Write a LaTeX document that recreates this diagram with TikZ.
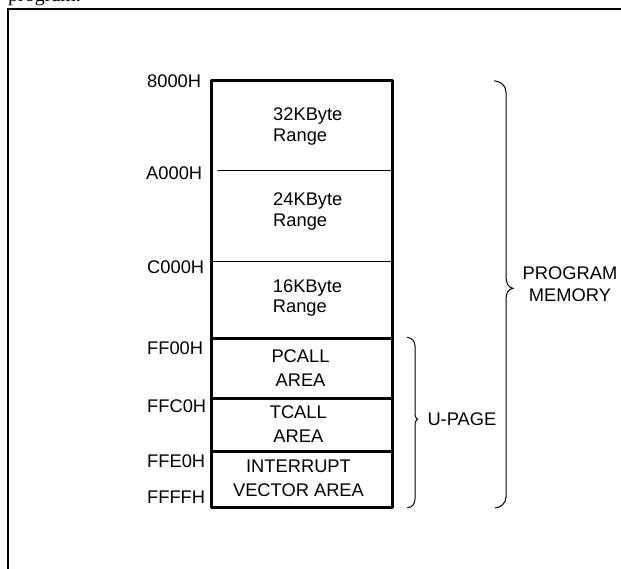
\documentclass[tikz,border=0pt]{standalone}
\usepackage{fontspec}
\setmainfont{Liberation Sans}
\newfontfamily\capfont{Liberation Serif}
\usepackage{tikz, tkz-euclide}
\usetikzlibrary{calc}

\tikzset{
  addr/.style={anchor=west, inner sep=0pt, font=\fontsize{18.3}{22}\selectfont},
  rangetxt/.style={anchor=west, align=left, inner sep=0pt, text depth=0pt,
    font=\fontsize{18.3}{20.5}\selectfont},
  areatxt/.style={align=center, inner sep=0pt, text depth=0pt,
    font=\fontsize{18.3}{24}\selectfont},
  bracel/.style={line width=1pt},
}

\begin{document}
\begin{tikzpicture}[x=1pt, y=-1pt]
      \useasboundingbox (0,0) rectangle (621,568);
      \clip (0,0) rectangle (621,568);%
      \node[anchor=base west, inner sep=0pt, font=\capfont\fontsize{20}{24}\selectfont]
        (cap) at (8,1.5) {program.};%
      \draw[line width=2pt] (8,9.3) rectangle (700,700);%

      \tkzDefPoints{211.7/80.7/T1, 392.3/80.7/T2, 392.3/507.7/B2, 211.7/507.7/B1}%
      \tkzDefPoints{218/170.7/a1, 392.3/170.7/a2, 210/261.7/c1, 392.3/261.7/c2}%
      \tkzDefPoints{211.7/338/f1, 392.3/338/f2, 211.7/398/g1, 392.3/398/g2}%
      \tkzDefPoints{211.7/451.7/h1, 392.3/451.7/h2}%

      \tkzDrawPolygon[line width=3pt](T1,T2,B2,B1)%
      \tkzDrawSegments[line width=1.5pt](a1,a2 c1,c2)%
      \tkzDrawSegments[line width=3pt](f1,f2 g1,g2 h1,h2)%

      % addresses
      \node[addr] (a8000) at (147,81.5) {8000H};%
      \node[addr] (aA000) at (146,173) {A000H};%
      \node[addr] (aC000) at (147,266.7) {C000H};%
      \node[addr] (aFF00) at (147,347.7) {FF00H};%
      \node[addr] (aFFC0) at (147,406) {FFC0H};%
      \node[addr] (aFFE0) at (147,460.7) {FFE0H};%
      \node[addr] (aFFFF) at (147,496.7) {FFFFH};%

      \node[rangetxt] (r32) at (273,124.7) {32KByte\\Range};%
      \node[rangetxt] (r24) at (273,209.7) {24KByte\\Range};%
      \node[rangetxt] (r16) at (272.7,296.3) {16KByte\\Range};%
      \node[areatxt] (pcall) at (300.5,368) {PCALL\\AREA};%
      \node[areatxt] (tcall) at (298.3,424) {TCALL\\AREA};%
      \node[areatxt] (intv) at (298.5,478.4) {INTERRUPT\\VECTOR AREA};%

      % braces
      \draw[bracel] (407.3,337.3) .. controls (412,338) and (415,341) .. (415,346)
        -- (415,413) .. controls (415,416.5) and (416,418.5) .. (417.5,419.3)
        .. controls (416,420) and (415,422) .. (415,425.5)
        -- (415,499) .. controls (415,504) and (412,507.5) .. (407.3,507.7);%
      \draw[bracel] (494.3,80.7) .. controls (500,81.5) and (506,85) .. (506,92)
        -- (506,276) .. controls (506,283) and (508,287.5) .. (513,288.3)
        .. controls (508,289) and (506,293.5) .. (506,300)
        -- (506,497) .. controls (506,503) and (501,507.5) .. (495,508);%
      \node[addr] (upage) at (427.3,419.3) {U-PAGE};%
      \node[areatxt, font=\fontsize{18.3}{21.7}\selectfont] (pmem) at (570,284.2) {PROGRAM\\MEMORY};%
    \end{tikzpicture}
\end{document}
